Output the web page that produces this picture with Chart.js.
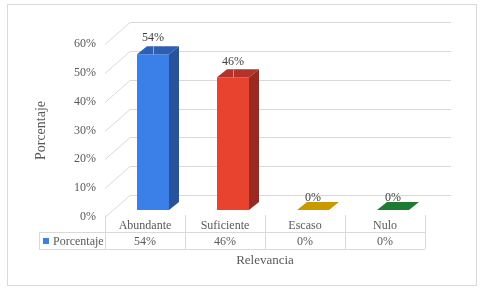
<!DOCTYPE html>
<html>
<head>
<meta charset="utf-8">
<script src="https://cdn.jsdelivr.net/npm/chart.js@4"></script>
<style>
  html, body { margin: 0; padding: 0; background: #fff; }
  #wrap { position: relative; width: 486px; height: 291px; }
  #frame { position: absolute; left: 7px; top: 4px; width: 468px; height: 280px; border: 1px solid #d9d9d9; }
  canvas { position: absolute; left: 0; top: 0; }
</style>
</head>
<body>
<div id="wrap">
  <div id="frame"></div>
  <canvas id="chart" width="486" height="291"></canvas>
</div>
<script>
// chart data
const categories = ['Abundante', 'Suficiente', 'Escaso', 'Nulo'];
const porcentaje = [54, 46, 0, 0];
const seriesName = 'Porcentaje';
const yTickValues = [0, 10, 20, 30, 40, 50, 60];

// colours per bar (front / side / top)
const frontColors = ['#3b80e8', '#e8432f', '#c99a00', '#1f7a33'];
const sideColors = ['#28539c', '#9a2a21', '#8a6a00', '#155523'];
const topColors = ['#2d5fb5', '#b3322a', '#c99a00', '#1f7a33'];

// 3d offsets
const wall = { x: 25, y: -22 };
const shift = { x: 8, y: -7 };
const depth = { x: 10, y: -8 };

const textColor = '#595959';
const lineColor = '#d9d9d9';
const fontFamily = '"Liberation Serif", "Times New Roman", serif';

const threeD = {
    id: 'threeD',
    beforeDatasetsDraw(chart) {
        const { ctx, chartArea: a, scales: { y } } = chart;
        ctx.save();
        ctx.strokeStyle = lineColor;
        ctx.lineWidth = 1;
        yTickValues.forEach(v => {
            const py = Math.round(y.getPixelForValue(v)) + 0.5;
            ctx.beginPath();
            ctx.moveTo(a.left, py);
            ctx.lineTo(a.left + wall.x, py + wall.y);
            ctx.lineTo(a.right + wall.x + 1, py + wall.y);
            ctx.stroke();
        });
        ctx.restore();
        // bars sit in the middle of the floor depth
        ctx.save();
        ctx.translate(shift.x, shift.y);
    },
    afterDatasetsDraw(chart) {
        const { ctx } = chart;
        const bars = chart.getDatasetMeta(0).data;
        bars.forEach((bar, i) => {
            const l = bar.x - bar.width / 2;
            const r = bar.x + bar.width / 2;
            const top = bar.y;
            const base = bar.base;
            // side face
            if (base - top > 0) {
                ctx.fillStyle = sideColors[i];
                ctx.beginPath();
                ctx.moveTo(r, top);
                ctx.lineTo(r + depth.x, top + depth.y);
                ctx.lineTo(r + depth.x, base + depth.y);
                ctx.lineTo(r, base);
                ctx.closePath();
                ctx.fill();
            }
            // top face
            ctx.fillStyle = topColors[i];
            ctx.beginPath();
            ctx.moveTo(l, top);
            ctx.lineTo(l + depth.x, top + depth.y);
            ctx.lineTo(r + depth.x, top + depth.y);
            ctx.lineTo(r, top);
            ctx.closePath();
            ctx.fill();
            // leader line from label
            if (base - top > 0) {
                ctx.strokeStyle = 'rgba(255,255,255,0.45)';
                ctx.lineWidth = 1;
                ctx.beginPath();
                ctx.moveTo(Math.round(bar.x) + 0.5, top + depth.y);
                ctx.lineTo(Math.round(bar.x) + 0.5, top);
                ctx.stroke();
            }
        });
        ctx.restore();

        // value labels
        ctx.save();
        ctx.font = '12px ' + fontFamily;
        ctx.fillStyle = '#404040';
        ctx.textAlign = 'center';
        ctx.textBaseline = 'middle';
        bars.forEach((bar, i) => {
            const off = porcentaje[i] > 0 ? 16 : 12;
            ctx.fillText(porcentaje[i] + '%', bar.x + shift.x, bar.y + shift.y - off);
        });
        ctx.restore();
    },
    afterDraw(chart) {
        // data table under the plot
        const { ctx, chartArea: a, scales: { x } } = chart;
        const slot = (a.right - a.left) / categories.length;
        const row1 = 232, row2 = 249, legendLeft = 39;
        ctx.save();
        ctx.strokeStyle = lineColor;
        ctx.lineWidth = 1;
        ctx.beginPath();
        ctx.moveTo(legendLeft, row1 + 0.5); ctx.lineTo(a.right, row1 + 0.5);
        ctx.moveTo(legendLeft, row2 + 0.5); ctx.lineTo(a.right, row2 + 0.5);
        ctx.moveTo(legendLeft + 0.5, row1); ctx.lineTo(legendLeft + 0.5, row2);
        for (let i = 0; i <= categories.length; i++) {
            const px = Math.round(a.left + i * slot) + 0.5;
            ctx.moveTo(px, a.bottom - 2);
            ctx.lineTo(px, row2);
        }
        ctx.stroke();

        ctx.font = '12px ' + fontFamily;
        ctx.fillStyle = textColor;
        ctx.textAlign = 'center';
        ctx.textBaseline = 'middle';
        porcentaje.forEach((v, i) => {
            ctx.fillText(v + '%', x.getPixelForValue(i), (row1 + row2) / 2 + 1);
        });
        // legend key
        ctx.fillStyle = frontColors[0];
        ctx.fillRect(43, 238, 6, 6);
        ctx.fillStyle = textColor;
        ctx.textAlign = 'left';
        ctx.fillText(seriesName, 53, (row1 + row2) / 2 + 1);
        ctx.restore();
    }
};

new Chart(document.getElementById('chart'), {
    type: 'bar',
    data: {
        labels: categories,
        datasets: [{
            label: seriesName,
            data: porcentaje,
            backgroundColor: frontColors,
            barPercentage: 0.4,
            categoryPercentage: 1
        }]
    },
    options: {
        responsive: false,
        animation: false,
        devicePixelRatio: 1,
        layout: { padding: { left: 33, top: 44, right: 61, bottom: 23 } },
        plugins: { legend: { display: false }, tooltip: { enabled: false } },
        scales: {
            x: {
                grid: { display: false, drawTicks: false },
                border: { display: false },
                ticks: { color: textColor, font: { family: fontFamily, size: 12 }, padding: 2 },
                title: { display: true, text: 'Relevancia', color: textColor, padding: 0, font: { family: fontFamily, size: 13 } },
                afterFit: s => { s.height = 51; }
            },
            y: {
                min: 0,
                max: 60,
                grid: { display: false, drawTicks: false },
                border: { display: false },
                ticks: { stepSize: 10, color: textColor, padding: 9, font: { family: fontFamily, size: 12 }, callback: v => v + '%' },
                title: { display: true, text: 'Porcentaje', color: textColor, padding: 0, font: { family: fontFamily, size: 14 } },
                afterFit: s => { s.width = 72; }
            }
        }
    },
    plugins: [threeD]
});
</script>
</body>
</html>
